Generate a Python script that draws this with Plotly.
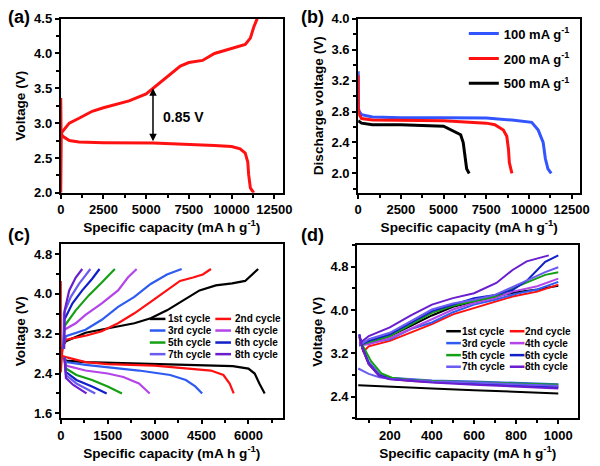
import plotly.graph_objects as go

W, H = 600, 466

# ---------------- Panel (a): first discharge/charge ----------------
a_dis_x = [0, 20, 120, 500, 1070, 2500, 5400, 7500, 9000, 10000, 10500, 10800, 10950, 11000, 11100, 11300]
a_dis_y = [3.36, 2.85, 2.81, 2.75, 2.73, 2.72, 2.715, 2.70, 2.68, 2.665, 2.63, 2.57, 2.44, 2.26, 2.07, 2.0]
a_chg_x = [0, 30, 100, 500, 1070, 1840, 2500, 4000, 5000, 5400, 6200, 7000, 7500, 8300, 9000, 10000, 10800, 11100, 11300, 11500]
a_chg_y = [2.0, 2.85, 2.88, 3.0, 3.07, 3.17, 3.22, 3.32, 3.42, 3.5, 3.66, 3.82, 3.87, 3.9, 4.0, 4.07, 4.13, 4.22, 4.38, 4.5]
a_gap_x = 5400
a_gap_low, a_gap_high = 2.72, 3.50
a_gap_label = "0.85 V"

# ---------------- Panel (b): discharge at different current densities ----------------
b_names = ["100 mA g<sup>-1</sup>", "200 mA g<sup>-1</sup>", "500 mA g<sup>-1</sup>"]
b_colors = ["#3355ff", "#ff1111", "#000000"]
b_x = [
    [0, 10, 60, 200, 840, 2500, 5000, 7500, 9000, 10160, 10540, 10830, 10960, 11110, 11300],
    [0, 10, 60, 200, 840, 2500, 5000, 7500, 8000, 8500, 8700, 8800, 8850, 9000],
    [0, 200, 840, 2500, 5000, 5500, 6000, 6150, 6250, 6350, 6500],
]
b_y = [
    [3.32, 2.85, 2.80, 2.76, 2.73, 2.72, 2.72, 2.715, 2.69, 2.66, 2.56, 2.40, 2.19, 2.06, 2.0],
    [3.27, 2.84, 2.76, 2.71, 2.69, 2.685, 2.68, 2.65, 2.63, 2.56, 2.48, 2.31, 2.14, 2.0],
    [2.68, 2.65, 2.63, 2.63, 2.61, 2.56, 2.50, 2.40, 2.19, 2.06, 2.0],
]

# ---------------- Panel (c) / (d): cycles ----------------
cyc_names = ["1st cycle", "2nd cycle", "3rd cycle", "4th cycle",
             "5th cycle", "6th cycle", "7th cycle", "8th cycle"]
cyc_colors = ["#000000", "#ff1010", "#2f5cf0", "#b445e8",
              "#14a014", "#1020c8", "#6a5cf0", "#6a1ed0"]

c_chg_x = [
    [0, 60, 167, 792, 1521, 2354, 2875, 3396, 3917, 4437, 4958, 5479, 5896, 6104, 6312],
    [0, 0, 60, 167, 792, 1312, 1833, 2354, 2875, 3396, 3813, 4229, 4542, 4802],
    [60, 167, 792, 1312, 1833, 2354, 2875, 3396, 3865],
    [80, 115, 479, 792, 1312, 1833, 2146, 2427],
    [90, 115, 479, 896, 1312, 1729],
    [90, 115, 375, 688, 1000, 1240],
    [90, 100, 323, 583, 948],
    [110, 125, 271, 479, 688],
]
c_chg_y = [
    [2.62, 2.95, 3.05, 3.22, 3.31, 3.41, 3.51, 3.67, 3.87, 4.07, 4.17, 4.21, 4.26, 4.39, 4.5],
    [4.26, 2.42, 2.95, 3.08, 3.16, 3.25, 3.41, 3.61, 3.84, 4.07, 4.26, 4.33, 4.39, 4.5],
    [2.9, 3.15, 3.28, 3.48, 3.74, 3.94, 4.2, 4.39, 4.5],
    [2.9, 3.28, 3.41, 3.58, 3.81, 4.07, 4.33, 4.5],
    [2.9, 3.35, 3.67, 3.97, 4.23, 4.5],
    [2.9, 3.48, 3.81, 4.07, 4.3, 4.5],
    [2.9, 3.61, 3.94, 4.2, 4.5],
    [2.9, 3.67, 4.07, 4.33, 4.5],
]
c_dis_x = [
    [100, 167, 792, 3000, 4500, 5500, 6000, 6200, 6350, 6520],
    [60, 167, 792, 1500, 3000, 4000, 4800, 5200, 5400, 5530],
    [120, 167, 792, 1500, 2500, 3500, 4000, 4300, 4521],
    [120, 167, 792, 1500, 2000, 2500, 2844],
    [120, 167, 500, 1000, 1500, 1958],
    [120, 167, 500, 1000, 1469],
    [120, 167, 500, 800, 1104],
    [120, 167, 400, 823],
]
c_dis_y = [
    [2.72, 2.66, 2.63, 2.59, 2.575, 2.55, 2.50, 2.40, 2.20, 2.0],
    [2.75, 2.73, 2.63, 2.59, 2.56, 2.51, 2.46, 2.37, 2.20, 2.0],
    [2.72, 2.63, 2.575, 2.53, 2.46, 2.37, 2.27, 2.14, 2.0],
    [2.72, 2.56, 2.46, 2.40, 2.33, 2.20, 2.0],
    [2.72, 2.50, 2.37, 2.27, 2.14, 2.0],
    [2.72, 2.43, 2.27, 2.14, 2.0],
    [2.72, 2.37, 2.20, 2.10, 2.0],
    [2.72, 2.31, 2.17, 2.0],
]

d_chg_x = [
    [55, 100, 200, 300, 400, 500, 600, 700, 800, 900, 1000],
    [71, 100, 200, 300, 400, 500, 600, 700, 783, 900, 1000],
    [55, 100, 200, 300, 400, 500, 600, 700, 800, 900, 1000],
    [55, 100, 200, 300, 400, 500, 600, 700, 783, 900, 1000],
    [55, 100, 200, 300, 400, 500, 600, 700, 783, 938, 1000],
    [55, 100, 200, 300, 400, 500, 600, 700, 783, 853, 938, 1000],
    [55, 100, 200, 300, 400, 500, 600, 700, 783, 938, 1000],
    [55, 100, 200, 300, 400, 500, 600, 706, 783, 850, 955],
]
d_chg_y = [
    [3.35, 3.40, 3.52, 3.71, 3.90, 4.06, 4.16, 4.25, 4.33, 4.38, 4.45],
    [3.22, 3.33, 3.43, 3.58, 3.74, 3.92, 4.04, 4.16, 4.25, 4.34, 4.47],
    [3.35, 3.39, 3.46, 3.65, 3.77, 3.96, 4.10, 4.19, 4.30, 4.38, 4.52],
    [3.35, 3.37, 3.48, 3.65, 3.83, 4.01, 4.13, 4.22, 4.34, 4.44, 4.58],
    [3.35, 3.41, 3.52, 3.74, 3.95, 4.08, 4.16, 4.25, 4.40, 4.65, 4.70],
    [3.35, 3.43, 3.55, 3.77, 3.98, 4.10, 4.22, 4.28, 4.37, 4.55, 4.89, 5.01],
    [3.35, 3.46, 3.58, 3.80, 4.01, 4.12, 4.19, 4.28, 4.43, 4.70, 4.79],
    [3.38, 3.52, 3.68, 3.90, 4.10, 4.22, 4.31, 4.50, 4.74, 4.90, 5.01],
]
d_dis_x = [
    [50, 200, 400, 600, 800, 1000],
    [55, 70, 100, 150, 200, 300, 400, 600, 800, 1000],
    [55, 70, 100, 150, 200, 300, 400, 600, 800, 1000],
    [55, 70, 100, 150, 200, 300, 400, 600, 800, 1000],
    [55, 75, 110, 160, 210, 300, 400, 600, 800, 1000],
    [55, 70, 100, 150, 200, 300, 400, 600, 800, 1000],
    [50, 70, 100, 150, 200, 300, 400, 600, 800, 1000],
    [55, 70, 100, 150, 200, 300, 400, 600, 800, 1000],
]
d_dis_y = [
    [2.61, 2.58, 2.55, 2.52, 2.49, 2.46],
    [3.50, 3.28, 3.00, 2.79, 2.73, 2.69, 2.67, 2.64, 2.61, 2.58],
    [3.55, 3.32, 3.04, 2.82, 2.75, 2.72, 2.70, 2.68, 2.65, 2.63],
    [3.52, 3.30, 3.02, 2.80, 2.74, 2.71, 2.69, 2.66, 2.63, 2.60],
    [3.50, 3.32, 3.06, 2.83, 2.75, 2.71, 2.69, 2.67, 2.64, 2.62],
    [3.55, 3.30, 3.01, 2.79, 2.73, 2.70, 2.67, 2.64, 2.60, 2.57],
    [2.92, 2.88, 2.82, 2.76, 2.73, 2.70, 2.68, 2.66, 2.63, 2.60],
    [3.55, 3.29, 3.00, 2.78, 2.72, 2.69, 2.66, 2.62, 2.58, 2.55],
]

# ---------------- Figure ----------------
FONT = "Liberation Sans, Arial, sans-serif"
fig = go.Figure()

# (a)
for xs, ys in [(a_dis_x, a_dis_y), (a_chg_x, a_chg_y)]:
    fig.add_trace(go.Scatter(x=xs, y=ys, mode="lines", line=dict(color="#ff1111", width=3),
                             xaxis="x", yaxis="y", showlegend=False))

# (b)
for i, (nm, col) in enumerate(zip(b_names, b_colors)):
    fig.add_trace(go.Scatter(x=b_x[i], y=b_y[i], mode="lines", name=nm,
                             line=dict(color=col, width=3), xaxis="x2", yaxis="y2",
                             legendgroup=f"b{i}", legend="legend"))

# (c)
for i, col in enumerate(cyc_colors):
    for xs, ys in [(c_chg_x[i], c_chg_y[i]), (c_dis_x[i], c_dis_y[i])]:
        fig.add_trace(go.Scatter(x=xs, y=ys, mode="lines", line=dict(color=col, width=2.2),
                                 xaxis="x3", yaxis="y3", showlegend=False))
# (d)
for i, col in enumerate(cyc_colors):
    for xs, ys in [(d_chg_x[i], d_chg_y[i]), (d_dis_x[i], d_dis_y[i])]:
        fig.add_trace(go.Scatter(x=xs, y=ys, mode="lines", line=dict(color=col, width=2),
                                 xaxis="x4", yaxis="y4", showlegend=False))


def ax(domain, rng, dtick, tick0, minor_dtick, title, anchor, fmt):
    return dict(
        domain=domain, range=rng, dtick=dtick, tick0=tick0, anchor=anchor,
        tickformat=fmt,
        showline=True, linewidth=2, linecolor="black", mirror=True,
        ticks="outside", ticklen=4, tickwidth=2, tickcolor="black",
        minor=dict(ticks="outside", ticklen=3, tickwidth=1.5, tickcolor="black",
                   dtick=minor_dtick, tick0=tick0),
        showgrid=False, zeroline=False,
        tickfont=dict(family=FONT, size=13, color="black", weight="bold"),
        title=dict(text=title, font=dict(family=FONT, size=13.6, color="black", weight="bold"),
                   standoff=5),
    )


XT = "Specific capacity (mA h g<sup>-1</sup>)"
xa = [58 / W, 285 / W]
xb = [362 / W, 589 / W]
xd = [361 / W, 587 / W]
ytop = [1 - 192 / H, 1 - 12 / H]
ybot = [1 - 425 / H, 1 - 245 / H]

fig.update_layout(
    width=W, height=H, autosize=False,
    margin=dict(l=0, r=0, t=0, b=0),
    paper_bgcolor="white", plot_bgcolor="white",
    xaxis=ax(xa, [0, 13000], 2500, 0, 1250, XT, "y", "d"),
    yaxis=ax(ytop, [2.0, 4.5], 0.5, 2.0, 0.25, "Voltage (V)", "x", ".1f"),
    xaxis2=ax(xb, [0, 13000], 2500, 0, 1250, XT, "y2", "d"),
    yaxis2=ax(ytop, [1.75, 4.0], 0.4, 2.0, 0.2, "Discharge voltage (V)", "x2", ".1f"),
    xaxis3=ax(xa, [0, 7100], 1500, 0, 750, XT, "y3", "d"),
    yaxis3=ax(ybot, [1.5, 5.0], 0.8, 1.6, 0.4, "Voltage (V)", "x3", ".1f"),
    xaxis4=ax(xd, [45, 1095], 200, 0, 100, XT, "y4", "d"),
    yaxis4=ax([1 - 425 / H, 1 - 246 / H], [2.0, 5.2], 0.8, 2.4, 0.4, "Voltage (V)", "x4", ".1f"),
    legend=dict(x=470 / W, y=1 - 12 / H, xanchor="left", yanchor="top",
                bgcolor="rgba(0,0,0,0)", tracegroupgap=5, itemwidth=30,
                font=dict(family=FONT, size=13, color="black", weight="bold")),
)

annotations = []
shapes = []
for txt, px, py in [("(a)", 2, 10), ("(b)", 302, 10), ("(c)", 2, 236), ("(d)", 302, 236)]:
    annotations.append(dict(text=txt, x=px / W, y=1 - py / H, xref="paper", yref="paper",
                            xanchor="left", yanchor="middle", showarrow=False,
                            font=dict(family=FONT, size=18, color="black", weight="bold")))

# arrow in (a)
annotations.append(dict(x=a_gap_x, y=a_gap_high, ax=a_gap_x, ay=a_gap_low, xref="x", yref="y",
                        axref="x", ayref="y", text="", showarrow=True, arrowhead=2,
                        arrowside="end+start", arrowsize=1, arrowwidth=1.5, arrowcolor="black"))
annotations.append(dict(x=7200, y=3.09, xref="x", yref="y", text=a_gap_label, showarrow=False,
                        font=dict(family=FONT, size=14, color="black", weight="bold")))


def cycle_legend(line_cols, text_cols, rows):
    for i, (nm, col) in enumerate(zip(cyc_names, cyc_colors)):
        r, c = divmod(i, 2)
        y = 1 - rows[r] / H
        shapes.append(dict(type="line", xref="paper", yref="paper",
                           x0=line_cols[c][0] / W, x1=line_cols[c][1] / W, y0=y, y1=y,
                           line=dict(color=col, width=2.5)))
        annotations.append(dict(text=nm, x=text_cols[c] / W, y=y, xref="paper", yref="paper",
                                xanchor="left", yanchor="middle", showarrow=False, borderpad=0,
                                font=dict(family=FONT, size=10, color="black", weight="bold")))


cycle_legend([(149, 165), (216, 232)], [167, 235], [322.3, 334.3, 346.7, 358.7])
cycle_legend([(452, 467), (517, 532)], [467, 532], [335, 347.3, 359.7, 371.7])

fig.update_layout(annotations=annotations, shapes=shapes)
fig.write_html("out.html")
